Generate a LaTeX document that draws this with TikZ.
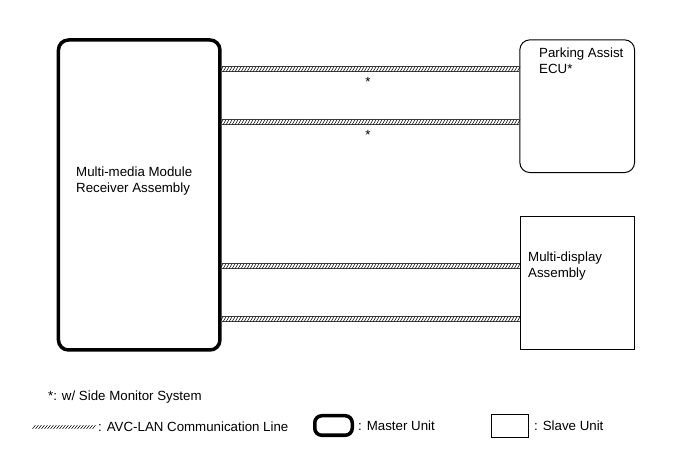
\documentclass[tikz,border=0pt]{standalone}
\usepackage{fontspec}
\setmainfont{Liberation Sans}
\usetikzlibrary{positioning,decorations.markings}

\begin{document}
\begin{tikzpicture}[x=1pt, y=-1pt,
   txt/.style={font=\fontsize{13.3}{16}\selectfont, align=left, inner sep=0pt},
   master/.style={draw, line width=3.5pt, rounded corners=10pt, inner sep=0pt},
   slave/.style={draw, line width=1pt, inner sep=0pt},
   avc/.style={draw=black!75, line width=0.7pt, double=white, double distance=#1,
               postaction={decorate}, decoration={markings,
               mark=between positions 0 and 1 step 3pt with
               {\draw[black, line width=0.55pt] (-1.4pt,-#1/2) -- (1.4pt,#1/2);}}},
   avc/.default=4.8pt]
  \useasboundingbox (0,0) rectangle (689,465);
  % units
  \node[master, minimum width=161.5pt, minimum height=310pt] (mmr) at (139.2,195) {};
  \node[txt, anchor=north west] (mmrtext) at (76,167) {Multi-media Module\\Receiver Assembly};
  \node[slave, rounded corners=10pt, minimum width=114.7pt, minimum height=132.7pt] (pa) at (577.2,106.2) {};
  \node[txt, anchor=north west] (patext) at (539,48) {Parking Assist\\ECU*};
  \node[slave, minimum width=114pt, minimum height=133pt] (md) at (577.5,283) {};
  \node[txt, anchor=north west] (mdtext) at (528,252) {Multi-display\\Assembly};
  % AVC-LAN lines
  \foreach \yy/\tgt in {69/pa,122/pa,266/md,319/md}
    {\draw[avc] (mmr.east |- 0,\yy) -- (\tgt.west |- 0,\yy);}
  \node[txt] (star1) at (368,82) {*};
  \node[txt] (star2) at (368,135) {*};
  % legend
  \node[txt, anchor=west] (note) at (48,397) {*: w/ Side Monitor System};
  \coordinate (keyl) at (34,427);
  \coordinate (keyr) at (95,427);
  \draw[avc=3.4pt] (keyl) -- (keyr);
  \node[txt, anchor=west] (keyavc) at (98,427) {: AVC-LAN Communication Line};
  \node[master, rounded corners=7pt, minimum width=37.5pt, minimum height=19.5pt] (keym) at (333.5,425.5) {};
  \node[txt, right=4pt of keym] (keymt) {: Master Unit};
  \node[slave, minimum width=37pt, minimum height=23pt] (keys) at (510,426) {};
  \node[txt, right=5pt of keys] (keyst) {: Slave Unit};
\end{tikzpicture}
\end{document}
